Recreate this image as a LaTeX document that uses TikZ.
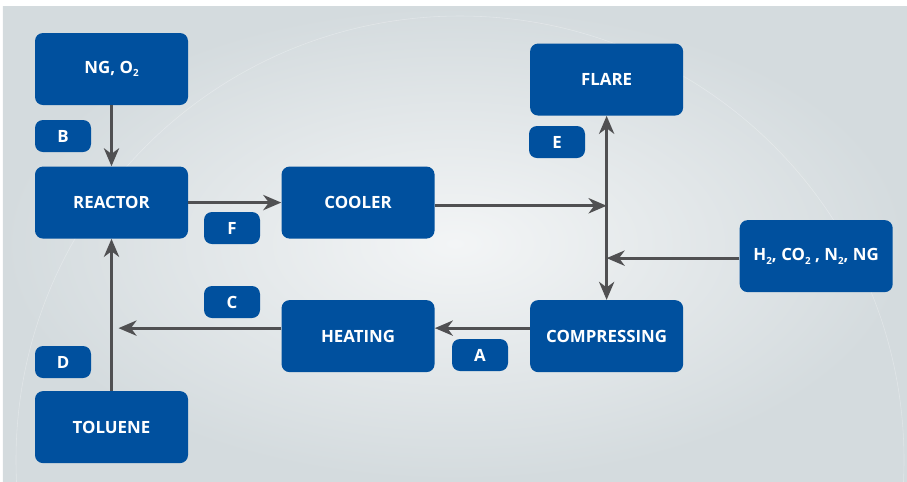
\documentclass[tikz,border=0pt]{standalone}
\usepackage{fontspec}
\setmainfont{Open Sans}
\usetikzlibrary{positioning}
\usetikzlibrary{arrows.meta}

\definecolor{boxblue}{RGB}{0,80,158}
\definecolor{arrowgray}{RGB}{80,80,82}
\definecolor{bgedge}{RGB}{212,219,222}
\definecolor{bgmid}{RGB}{243,245,246}

\newcommand{\chemsub}[1]{\raisebox{-0.4ex}{\fontsize{7}{8}\selectfont #1}}

\begin{document}
\begin{tikzpicture}[
	box/.style={rectangle, rounded corners=0.2cm, fill=boxblue, text=white,
		minimum width=3.825cm, minimum height=1.8cm, inner sep=1pt,
		font=\fontsize{12}{14}\selectfont\bfseries},
	tag/.style={rectangle, rounded corners=0.2cm, fill=boxblue, text=white,
		minimum width=1.4cm, minimum height=0.8cm, inner sep=1pt,
		font=\fontsize{12}{14}\selectfont\bfseries},
	flow/.style={draw=arrowgray, line width=2.1pt,
		-{Stealth[length=0.45cm, width=0.38cm, inset=0.14cm]}},
	both/.style={draw=arrowgray, line width=2.1pt,
		{Stealth[length=0.45cm, width=0.38cm, inset=0.14cm]}-{Stealth[length=0.45cm, width=0.38cm, inset=0.14cm]}}]
			\useasboundingbox (0,0) rectangle (22.675,-12.025);
			\shade[inner color=bgmid, outer color=bgedge] (0.075,-0.15) rectangle (22.675,-12.025);
			\begin{scope}
				\clip (0.075,-0.15) rectangle (22.675,-12.025);
				\draw[white, opacity=0.3, line width=0.4pt] (11.5,-11.5) circle (11.1cm);
			\end{scope}
			
			\node[box] (ng) at (2.7875,-1.725) {NG, O\chemsub{2}};
			\node[box, below = 1.525cm of ng] (reactor) {REACTOR};
			\node[box, below = 3.8cm of reactor] (toluene) {TOLUENE};
			\node[box, right = 2.325cm of reactor] (cooler) {COOLER};
			\node[box, below = 1.525cm of cooler] (heating) {HEATING};
			\node[box, right = 2.375cm of heating] (compr) {COMPRESSING};
			\node[box, above = 4.6cm of compr] (flare) {FLARE};
			\node[box, right = 1.4cm of compr, yshift=2cm] (gas) {H\chemsub{2}, CO\chemsub{2} , N\chemsub{2}, NG};
			
			\node[tag] (tagB) at (1.575,-3.4) {B};
			\node[tag] (tagF) at (5.8,-5.7) {F};
			\node[tag] (tagE) at (13.925,-3.55) {E};
			\node[tag] (tagC) at (5.8,-7.55) {C};
			\node[tag] (tagA) at (12.0,-8.875) {A};
			\node[tag] (tagD) at (1.575,-9.05) {D};
			
			\coordinate (jcool) at ([yshift=-0.08cm]cooler.east -| compr.north);
			\coordinate (jgas) at ([yshift=-0.05cm]gas.west -| compr.north);
			\coordinate (jheat) at ([yshift=0.2cm]heating.west -| toluene.north);
			
			\path[flow] (ng) -- (reactor);
			\path[flow] (reactor) -- (cooler);
			\path[flow] ([yshift=-0.08cm]cooler.east) -- (jcool);
			\path[both] (compr) -- (flare);
			\path[flow] ([yshift=-0.05cm]gas.west) -- (jgas);
			\path[flow] ([yshift=0.2cm]compr.west) -- ([yshift=0.2cm]heating.east);
			\path[flow, shorten >=0.175cm] ([yshift=0.2cm]heating.west) -- (jheat);
			\path[flow] (toluene) -- (reactor);
			\end{tikzpicture}
\end{document}
